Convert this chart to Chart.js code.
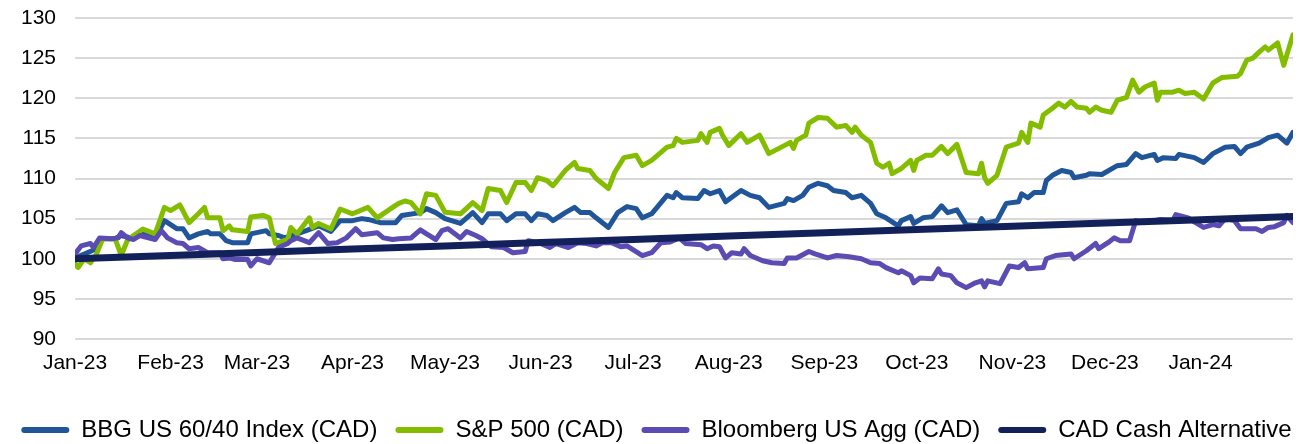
<!DOCTYPE html>
<html>
<head>
<meta charset="utf-8">
<script src="https://cdn.jsdelivr.net/npm/chart.js@4.4.1/dist/chart.umd.min.js"></script>
<style>
  html, body { margin: 0; padding: 0; background: #fff; }
  #wrap { width: 1313px; height: 444px; }
</style>
</head>
<body>
<div id="wrap"><canvas id="myChart" width="1313" height="444"></canvas></div>
<script>
'use strict';

// x values are days since 1 Jan 2023
const monthDays = [0, 31, 59, 90, 120, 151, 181, 212, 243, 273, 304, 334, 365];
const monthLabels = ['Jan-23', 'Feb-23', 'Mar-23', 'Apr-23', 'May-23', 'Jun-23', 'Jul-23',
  'Aug-23', 'Sep-23', 'Oct-23', 'Nov-23', 'Dec-23', 'Jan-24'];

const seriesNames = ['BBG US 60/40 Index (CAD)', 'S&P 500 (CAD)', 'Bloomberg US Agg (CAD)', 'CAD Cash Alternative'];

const blendDays = [0,7,9,13,15,19,22,26,29,33,35,37,40,43,44,47,49,51,56,57,62,63,66,68,72,75,79,83,86,90,93,95,99,104,106,112,114,117,120,
  125,129,132,134,138,140,143,146,148,150,153,155,159,162,164,167,169,173,176,179,182,184,187,192,194,195,197,202,204,206,209,211,216,219,
  222,225,230,231,233,236,238,241,244,246,250,252,255,258,260,263,267,268,271,272,275,278,281,283,286,289,293,294,295,299,302,306,307,309,
  311,314,315,317,320,323,324,328,329,333,338,341,344,346,350,351,353,357,358,363,366,369,373,376,378,380,384,387,390,393,395];
const blendVals = [100.1,101.25,102.5,102.5,102.9,102.5,103.1,102.5,104.75,103.75,103.75,102.6,103.1,103.4,103.1,103.1,102.25,102,102,103.1,
  103.5,103.1,102.9,102.6,103.1,103.5,104.1,103.4,104.75,104.75,105,104.9,104.5,104.5,105.4,105.75,106.25,105.75,105,
  104.4,105.75,104.5,105.6,105.6,104.75,105.6,105.6,104.75,105.6,105.4,104.75,105.75,106.4,105.75,105.75,105.1,103.9,105.75,106.5,106.25,
  105.1,105.6,107.9,107.6,108.25,107.6,107.5,108.5,108.1,108.5,107.1,108.5,107.9,
  107.6,106.4,106.9,107.5,107.25,107.9,108.9,109.4,109.1,108.5,108.25,107.6,107.9,106.9,105.6,105.1,104.1,104.75,105.25,104.4,105.1,105.25,
  106.6,105.75,106.1,104.25,104.1,105,104.4,104.75,106.9,107.1,108.1,107.6,
  108.25,108.25,109.75,110.4,111,110.75,110.1,110.4,110.6,110.5,111.6,111.75,113.1,112.6,113,112.25,112.6,112.5,113,112.6,112,113.1,113.9,
  114,113.1,113.9,114.4,115.1,115.4,114.4,115.75];

const spDays = [0,1,3,5,7,9,13,15,17,19,22,26,29,31,34,37,40,42,43,47,48,50,51,56,57,61,63,65,69,70,72,76,77,79,83,86,90,95,98,103,105,107,
  109,112,114,117,120,125,129,132,134,138,140,143,146,148,150,153,155,159,162,163,167,169,173,175,178,182,184,187,192,194,195,197,202,203,
  205,206,209,210,212,216,218,222,225,230,232,233,234,237,238,241,244,247,250,252,253,255,258,260,262,264,265,268,271,272,273,276,278,281,
  283,286,289,293,294,295,296,299,302,306,307,309,310,313,314,317,319,321,323,325,328,329,331,333,336,338,341,343,345,347,350,351,352,356,
  358,360,363,366,369,372,377,378,380,382,384,386,387,390,392,393,395];
const spVals = [99.4,98.9,100,99.5,100.6,102.5,102.5,100.4,102.3,102.9,103.7,103.1,106.4,106,106.7,104.5,105.6,106.4,105.1,105.1,103.5,104.1,
  103.6,103.4,105.2,105.4,105.1,101.9,102.4,103.9,103.1,105.1,103.9,104.4,103.7,106.2,105.6,106.4,105.1,106.4,106.9,107.2,
  107,105.6,108.1,107.9,105.8,105.6,107,106,108.75,108.5,107,109.5,109.5,108.5,110.1,109.75,109.1,111,112,111.25,111,110,108.75,110.75,
  112.6,112.9,111.6,112.25,113.9,114.1,115,114.5,114.75,115.6,
  114.5,115.75,116.25,115.4,114.1,115.6,114.5,115.4,113.1,114.1,114.5,113.75,114.75,115.4,116.9,117.6,117.5,116.4,116.6,115.75,116.4,115.4,
  114.5,111.9,111.4,111.9,110.6,111.25,112.25,111,112.25,112.9,112.9,114,
  113.1,114.25,110.75,110.6,111.9,110.1,109.4,110.4,113.9,114.4,115.75,114.5,116.9,116.4,117.9,118.75,119.4,118.9,119.6,118.9,118.75,118.25,
  118.9,118.5,118.25,119.75,120.1,122.25,120.75,121.4,121.9,119.75,120.75,120.75,
  121,120.6,120.75,119.9,121.9,122.6,122.75,123.1,124.75,125,125.75,126.4,126,126.9,124.1,125.4,127.9];

const aggDays = [0,2,5,6,8,12,14,15,17,19,21,26,28,30,33,35,37,40,43,47,48,50,52,56,57,59,63,65,66,69,70,72,76,79,82,85,88,91,93,98,100,103,
  105,109,112,114,117,119,121,125,127,130,132,135,139,142,146,147,151,154,156,160,163,166,169,171,174,177,179,184,187,190,193,196,198,203,
  205,207,209,211,213,216,217,219,223,226,230,231,234,238,240,244,247,251,255,258,261,263,267,268,271,272,274,278,280,281,284,286,289,292,
  294,295,296,300,303,306,308,309,314,315,318,323,324,328,331,332,335,337,339,342,344,347,350,352,356,357,361,363,366,369,371,373,376,378,
  383,385,387,389,392,393,395];
const aggVals = [100.6,101.6,101.9,101.4,102.6,102.5,102.6,103.25,102.6,102.4,102.9,102.4,103.5,102.6,102,101.9,101.25,101.4,100.75,100.75,
  100,100.1,99.9,99.9,99.1,100,99.5,100.75,101.4,101.9,102.25,102.6,102,103.25,101.9,102,102.6,103.75,103,103.25,102.6,102.4,
  102.5,102.6,103.6,103.1,102.4,103.5,103.75,102.6,103.4,102.9,102.5,101.5,101.4,100.75,100.9,102.25,101.9,101.4,101.9,101.4,102,101.9,
  101.6,102,102,101.5,101.6,100.4,100.75,102,102.1,102.6,101.9,101.75,
  101.25,101.6,101.5,100.1,100.75,100.6,101.25,100.4,99.75,99.5,99.4,100.1,100.1,100.9,100.6,100.1,100.4,100.25,100,99.5,99.4,98.9,98.25,
  98.5,97.9,97,97.6,97.5,98.75,98.1,97.9,97,96.4,97,
  97.25,96.5,97.25,96.9,99.1,98.9,99.5,98.75,98.9,100,100.4,100.6,100,101,101.9,101.25,102,102.6,102.25,102.25,104.75,104.5,104.75,104.9,
  104.75,105.5,105.1,104.6,103.9,104.25,104.1,105,104.75,103.75,
  103.75,103.4,103.9,104,104.5,105.4,104.5];

const cashDays = [0, 31, 59, 90, 120, 151, 181, 212, 243, 273, 304, 334, 365, 395];
const cashVals = [100, 100.41, 100.78, 101.2, 101.6, 102.01, 102.41, 102.82, 103.23, 103.63, 104.04, 104.44, 104.85, 105.25];

const colors = ['#20559a', '#84bd00', '#5b4cb4', '#13215a'];

const toPoints = (days, vals) => days.map((d, i) => ({ x: d, y: vals[i] }));

const makeSet = (i, days, vals, width, order) => ({
  label: seriesNames[i],
  data: toPoints(days, vals),
  borderColor: colors[i],
  backgroundColor: colors[i],
  borderWidth: width,
  pointRadius: 0,
  tension: 0,
  borderJoinStyle: 'round',
  borderCapStyle: 'round',
  order: order
});

const font = 'Liberation Sans, Arial, sans-serif';

let ctx = document.getElementById('myChart').getContext('2d');

let chart = new Chart(ctx, {
  type: 'line',
  data: {
    datasets: [
      makeSet(0, blendDays, blendVals, 5, 4),
      makeSet(1, spDays, spVals, 5, 3),
      makeSet(2, aggDays, aggVals, 5, 2),
      makeSet(3, cashDays, cashVals, 7, 1)
    ]
  },
  options: {
    responsive: false,
    animation: false,
    layout: { padding: { top: 18, right: 0, left: 0, bottom: -8 } },
    plugins: {
      tooltip: { enabled: false },
      legend: {
        position: 'bottom',
        labels: {
          color: '#000',
          font: { family: font, size: 24 },
          boxWidth: 48,
          boxHeight: 6,
          useBorderRadius: true,
          borderRadius: 3,
          padding: 18,
          sort: (a, b) => a.datasetIndex - b.datasetIndex,
          generateLabels: c => Chart.defaults.plugins.legend.labels.generateLabels(c)
            .map(item => Object.assign(item, { lineWidth: 0 }))
        }
      }
    },
    scales: {
      x: {
        type: 'linear',
        min: 0,
        max: 395,
        grid: { display: false, drawTicks: false },
        border: { display: false },
        afterBuildTicks: axis => { axis.ticks = monthDays.map(v => ({ value: v })); },
        afterFit: axis => { axis.height = 61; },
        ticks: {
          color: '#000',
          font: { family: font, size: 21 },
          padding: 12,
          maxRotation: 0,
          autoSkip: false,
          callback: v => monthLabels[monthDays.indexOf(v)]
        }
      },
      y: {
        min: 90,
        max: 130,
        grid: { color: '#d9d9d9', lineWidth: 2, drawTicks: true, tickLength: 19, tickColor: 'rgba(0,0,0,0)' },
        border: { display: false },
        afterFit: axis => { axis.width = 75; },
        ticks: {
          stepSize: 5,
          color: '#000',
          font: { family: font, size: 21 },
          padding: 0
        }
      },
      // empty right-hand strip so the plot stops short of the canvas edge
      yRight: {
        position: 'right',
        grid: { display: false, drawTicks: false },
        border: { display: false },
        ticks: { display: false },
        afterFit: axis => { axis.width = 20; }
      }
    }
  }
});
</script>
</body>
</html>
